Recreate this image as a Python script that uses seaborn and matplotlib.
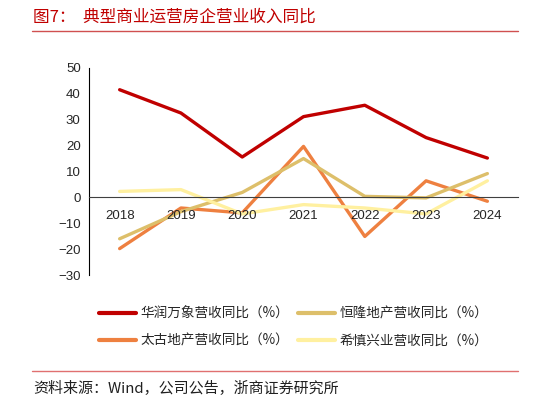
import pandas as pd
import matplotlib
matplotlib.use('Agg')
import matplotlib.pyplot as plt
import seaborn as sns

# data
years = ['2018', '2019', '2020', '2021', '2022', '2023', '2024']
crland = [41.6, 32.6, 15.6, 31.2, 35.6, 23.1, 15.2]
hanglung = [-16.0, -5.5, 1.9, 15.0, 0.4, -0.2, 9.2]
swire = [-19.8, -4.1, -6.0, 19.7, -15.1, 6.4, -1.5]
hysan = [2.3, 3.0, -6.4, -2.8, -4.1, -6.4, 6.4]

names = ['华润万象营收同比（%）', '太古地产营收同比（%）',
         '恒隆地产营收同比（%）', '希慎兴业营收同比（%）']
colors = ['#C00000', '#EE8040', '#DDBF6A', '#FFF0A0']

df = pd.DataFrame({'year': years, names[0]: crland, names[1]: swire,
                   names[2]: hanglung, names[3]: hysan})
long = df.melt(id_vars='year', var_name='series', value_name='value')

sns.set_style('white')
plt.rcParams['font.family'] = ['Liberation Sans', 'Noto Sans CJK SC', 'DejaVu Sans']
cjk = ['Noto Sans CJK SC', 'DejaVu Sans']

fig = plt.figure(figsize=(5.48, 4.03), dpi=100)
ax = fig.add_axes([0.1624, 0.3176, 0.7829, 0.5137])

sns.lineplot(data=long, x='year', y='value', hue='series', hue_order=names,
             palette=colors, linewidth=2.4, sort=False, ax=ax, legend=False)

ax.set_xlim(-0.5, 6.5)
ax.set_ylim(-30, 50)
ax.set_yticks(range(-30, 51, 10))
ax.set_xlabel('')
ax.set_ylabel('')

# x axis sits at zero, ticks between categories
ax.spines['top'].set_visible(False)
ax.spines['right'].set_visible(False)
ax.spines['bottom'].set_position(('data', 0))
ax.spines['bottom'].set_color('#404040')
ax.spines['left'].set_color('black')
ax.spines['bottom'].set_linewidth(0.8)
ax.spines['left'].set_linewidth(0.8)
ax.set_xticks([i + 0.5 for i in range(-1, 7)], minor=False)
ax.set_xticklabels([''] * 8)
ax.set_xticks(range(7), minor=True)
ax.set_xticklabels(years, minor=True)
ax.tick_params(axis='x', which='major', direction='out', length=4, color='#404040')
ax.tick_params(axis='x', which='minor', length=0, labelsize=9.5, pad=9)
ax.tick_params(axis='y', direction='out', length=4, labelsize=9.5, pad=2)
ax.xaxis.set_zorder(3)

# legend built from the same series
handles = [plt.Line2D([], [], color=c, linewidth=3) for c in colors]
leg = fig.legend(handles, names, loc='upper left', bbox_to_anchor=(0.158, 0.27),
                 ncol=2, frameon=False, handlelength=2.7, handletextpad=0.37,
                 columnspacing=0.65, labelspacing=0.95,
                 prop={'family': cjk, 'size': 9.8})

# title, rules and source
fig.text(0.06, 0.957, '图7：  典型商业运营房企营业收入同比', color='#C00000',
         fontsize=12, family=cjk, va='center')
fig.add_artist(plt.Line2D([0.058, 0.945], [0.922, 0.922], color='#D05050', linewidth=1))
fig.add_artist(plt.Line2D([0.058, 0.945], [0.079, 0.079], color='#E07070', linewidth=1))
fig.text(0.06, 0.035, '资料来源：Wind，公司公告，浙商证券研究所', color='#202020',
         fontsize=10.8, family=cjk, va='center')

plt.savefig('out.png', dpi=100)
